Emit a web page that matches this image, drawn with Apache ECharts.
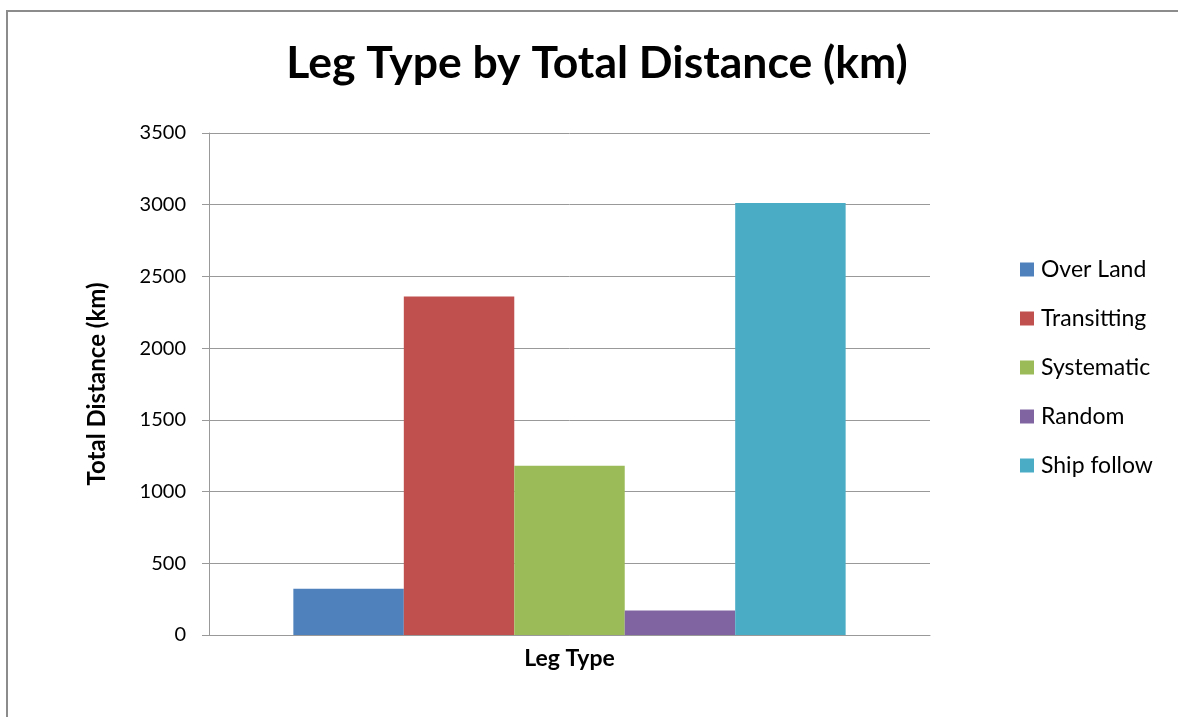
<!DOCTYPE html>
<html>
<head>
<meta charset="utf-8">
<script src="https://cdn.jsdelivr.net/npm/echarts@6/dist/echarts.min.js"></script>
<style>
  html, body { margin: 0; padding: 0; background: #fff; }
  #chart { width: 1178px; height: 717px; }
</style>
</head>
<body>
<div id="chart"></div>
<script>
const categories = ['Leg Type']
const seriesNames = ['Over Land', 'Transitting', 'Systematic', 'Random', 'Ship follow']
const seriesValues = [322, 2360, 1180, 170, 3012]
const colors = ['#4F81BD', '#C0504D', '#9BBB59', '#8064A2', '#4BACC6']

const font = 'Lato, "Open Sans", sans-serif'
const chart = echarts.init(document.getElementById('chart'))

chart.setOption({
  animation: false,
  textStyle: { fontFamily: font },
  title: {
    text: 'Leg Type by Total Distance (km)',
    left: 592,
    textAlign: 'center',
    top: 36,
    textStyle: { fontSize: 44.5, fontWeight: 'bold', color: '#000', fontFamily: font },
  },
  graphic: [{
    type: 'rect',
    shape: { x: 7, y: 11, width: 1400, height: 900 },
    style: { fill: 'none', stroke: '#8c8c8c', lineWidth: 2 },
    silent: true,
  }],
  legend: {
    orient: 'vertical',
    left: 1020,
    top: 258,
    padding: 0,
    itemWidth: 14,
    itemHeight: 14,
    itemGap: 26,
    itemStyle: { borderWidth: 0 },
    icon: 'rect',
    textStyle: { fontSize: 23, color: '#000', fontFamily: font, padding: [0, 0, 0, 2] },
    data: seriesNames,
  },
  grid: { left: 209, right: 248, top: 133, bottom: 82 },
  xAxis: {
    type: 'category',
    data: categories,
    name: 'Leg Type',
    nameLocation: 'middle',
    nameGap: 12,
    nameTextStyle: { fontSize: 23, fontWeight: 'bold', color: '#000' },
    axisLine: { lineStyle: { color: '#999' } },
    axisTick: { show: false },
    axisLabel: { show: false },
  },
  yAxis: {
    type: 'value',
    min: 0,
    max: 3500,
    interval: 500,
    name: 'Total Distance (km)',
    nameLocation: 'middle',
    nameGap: 100,
    nameTextStyle: { fontSize: 24, fontWeight: 'bold', color: '#000' },
    axisLine: { show: true, lineStyle: { color: '#999' } },
    axisTick: { show: true, length: 7, lineStyle: { color: '#999' } },
    axisLabel: { fontSize: 20, color: '#000', margin: 23, formatter: (v) => String(v) },
    splitLine: { lineStyle: { color: '#999' } },
  },
  series: seriesNames.map((name, i) => ({
    name,
    type: 'bar',
    barGap: '0%',
    barCategoryGap: '23.4%',
    data: [seriesValues[i]],
    itemStyle: { color: colors[i] },
  })),
})
</script>
</body>
</html>
